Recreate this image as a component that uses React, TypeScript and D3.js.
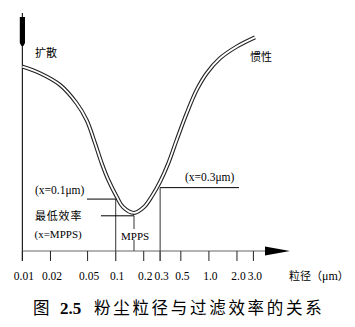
import React from "react";
import * as d3 from "d3";

// ---- data ----
const xTicks = [0.01, 0.02, 0.05, 0.1, 0.2, 0.3, 0.5, 1, 2, 3];
const xTickLabels = ["0.01", "0.02", "0.05", "0.1", "0.2", "0.3", "0.5", "1.0", "2.0", "3.0"];

// particle size (µm) and relative filtration efficiency
const curveSize = [0.01, 0.01545, 0.0253, 0.0382, 0.0489, 0.0601, 0.0709, 0.0834, 0.1026, 0.12, 0.1573, 0.2014, 0.2453, 0.299, 0.367, 0.4516, 0.578, 0.74, 0.947, 1.315, 1.987, 3.12];
const curveEff = [83.8, 80.8, 75.5, 67.1, 59.5, 49.0, 39.9, 32.3, 24.7, 20.0, 17.3, 20.0, 25.0, 31.4, 39.9, 50.5, 62.6, 73.2, 80.8, 87.6, 92.9, 97.1];

// guide markers: size and efficiency level
const markerSize = [0.1, 0.1573, 0.3];
const markerLevel = [23.6, 16.0, 28.8];

const W = 355;
const H = 327;
const axisY = 251;

export default function App() {
  const x = d3.scaleLog().domain([0.01, 3]).range([22.4, 253.4]);
  const y = d3.scaleLinear().domain([0, 100]).range([axisY, 31]);

  const pts: [number, number][] = curveSize.map((s, i) => [x(s), y(curveEff[i])]);
  const line = d3.line<[number, number]>().x((d) => d[0]).y((d) => d[1]).curve(d3.curveCatmullRom.alpha(0.5));
  const pathD = line(pts) || "";

  const x0 = x(0.01);
  const serif = "'Liberation Serif', 'Times New Roman', 'Noto Sans CJK SC', serif";
  const cjk = "'Noto Sans CJK SC', sans-serif";

  const m01x = x(markerSize[0]);
  const mMx = x(markerSize[1]);
  const m03x = x(markerSize[2]);
  const m01y = y(markerLevel[0]);
  const mMy = y(markerLevel[1]);
  const m03y = y(markerLevel[2]);

  return (
    <svg width={W} height={H} style={{ position: "absolute", left: 0, top: 0, background: "#fff" }}>
      {/* y axis */}
      <line x1={x0} y1={13} x2={x0} y2={axisY + 10} stroke="#222" strokeWidth={1.2} />
      <path d={`M${x0 - 2.6},17 L${x0 + 2.6},17 L${x0 + 2.6},43 L${x0 + 1},46 L${x0 - 1},46 L${x0 - 2.6},43 Z`} fill="#000" />
      {/* x axis */}
      <line x1={x0} y1={axisY} x2={268} y2={axisY} stroke="#666" strokeWidth={1.2} />
      <path d={`M265,246.5 L290,251 L265,255.5 Z`} fill="#000" />
      {/* ticks */}
      {xTicks.map((t, i) => (
        <line key={"t" + i} x1={x(t)} y1={axisY} x2={x(t)} y2={axisY + 10} stroke="#222" strokeWidth={1} />
      ))}
      {xTicks.map((t, i) => (
        <text key={"l" + i} x={x(t) + 1.5} y={279.5} textAnchor="middle" fontFamily={serif} fontSize={11.5} fill="#000">
          {xTickLabels[i]}
        </text>
      ))}
      <text x={289} y={279.5} fontFamily={cjk} fontSize={11} fill="#000">
        粒径（<tspan fontFamily={serif} fontSize={12}>μm</tspan>）
      </text>

      {/* guide lines */}
      <line x1={m01x} y1={m01y} x2={m01x} y2={axisY + 10} stroke="#555" strokeWidth={1.2} />
      <line x1={87} y1={m01y} x2={m01x} y2={m01y} stroke="#000" strokeWidth={1} />
      <line x1={mMx} y1={mMy} x2={mMx} y2={axisY} stroke="#555" strokeWidth={1.2} />
      <line x1={101} y1={mMy} x2={mMx} y2={mMy} stroke="#000" strokeWidth={1} />
      <line x1={m03x} y1={m03y} x2={m03x} y2={axisY + 10} stroke="#555" strokeWidth={1.2} />
      <line x1={m03x} y1={m03y} x2={239} y2={m03y} stroke="#000" strokeWidth={1} />

      {/* curve (double line) */}
      <path d={pathD} fill="none" stroke="#222" strokeWidth={4} />
      <path d={pathD} fill="none" stroke="#fff" strokeWidth={1.8} />

      {/* labels */}
      <text x={35} y={57} fontFamily={cjk} fontSize={11} fill="#000">扩散</text>
      <text x={250} y={61} fontFamily={cjk} fontSize={11} fill="#000">惯性</text>
      <text x={35} y={194} fontFamily={serif} fontSize={11.5} fill="#000">(x=0.1μm)</text>
      <text x={35} y={220} fontFamily={cjk} fontSize={11} letterSpacing={0.8} fill="#000">最低效率</text>
      <text x={34.5} y={237.5} fontFamily={serif} fontSize={11} fill="#000">(x=MPPS)</text>
      <rect x={121} y={229} width={26} height={11} fill="#fff" />
      <text x={121} y={239.5} fontFamily={serif} fontSize={11} fill="#000">MPPS</text>
      <text x={185} y={181} fontFamily={serif} fontSize={11.5} fill="#000">(x=0.3μm)</text>

      {/* title */}
      <text x={33} y={314} fontFamily={cjk} fontSize={16.5} fill="#000">图</text>
      <text x={60} y={314} fontFamily={serif} fontSize={17} fontWeight="bold" fill="#000">2.5</text>
      <text x={94} y={314} fontFamily={cjk} fontSize={16.5} letterSpacing={2.7} fill="#000">粉尘粒径与过滤效率的关系</text>
    </svg>
  );
}
